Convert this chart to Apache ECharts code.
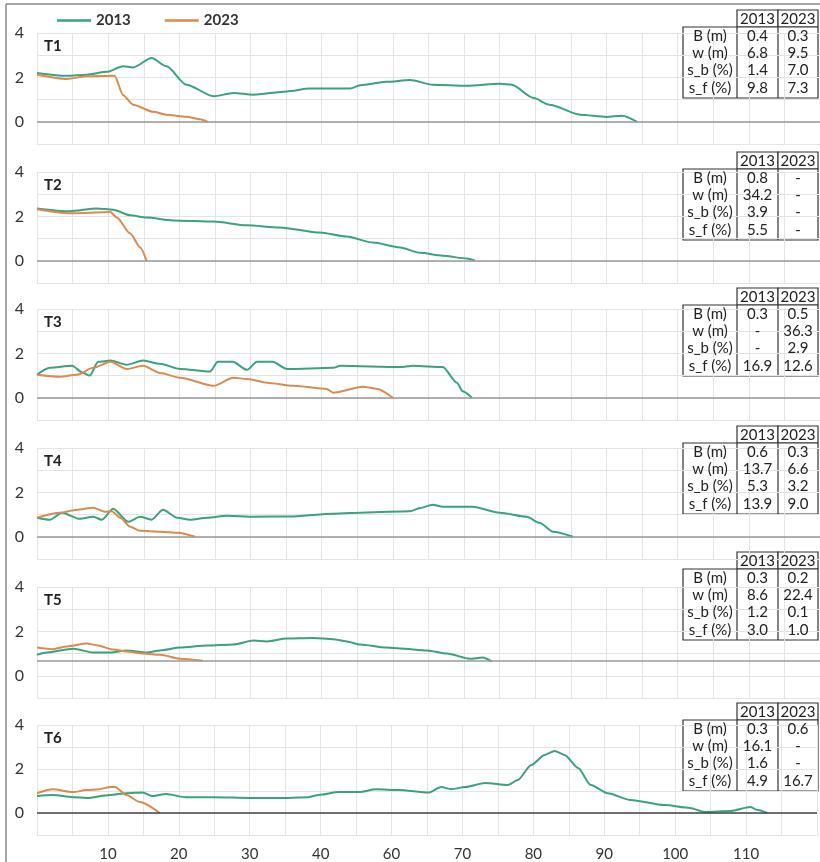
<!DOCTYPE html>
<html>
<head>
<meta charset="utf-8">
<script src="https://cdn.jsdelivr.net/npm/echarts@6/dist/echarts.min.js"></script>
<style>
  html, body { margin: 0; padding: 0; background: #fff; }
  #chart { width: 820px; height: 862px; }
</style>
</head>
<body>
<div id="chart"></div>
<script>
// profiles, x in axis units, y in m
const t1_2013 = [[0,2.2],[4.2,2.07],[7,2.12],[9.8,2.25],[12.1,2.5],[13.5,2.45],[16.1,2.87],[18.2,2.5],[21,1.67],[24.8,1.15],[27.6,1.3],[30.4,1.22],[35.1,1.37],[38.3,1.5],[44,1.5],[45.4,1.65],[49.1,1.8],[52.4,1.88],[55.6,1.67],[60.4,1.62],[65,1.71],[66.7,1.67],[69.7,1.08],[72,0.77],[76.3,0.32],[80,0.22],[82.2,0.27],[84.3,0]];
const t1_2023 = [[0,2.12],[4.2,1.93],[7,2.05],[10.9,2.07],[12.1,1.2],[13.5,0.77],[16.3,0.45],[18.2,0.32],[21,0.23],[22.9,0.12],[24,0]];
const t2_2013 = [[0,2.36],[4.6,2.23],[8.4,2.36],[10.7,2.3],[13.1,2.05],[15.4,1.95],[19.1,1.82],[24.8,1.77],[29.5,1.6],[34.1,1.5],[39.7,1.27],[43.5,1.09],[47.2,0.82],[51,0.6],[53.8,0.36],[57,0.23],[60.4,0.1],[61.5,0]];
const t2_2023 = [[0,2.32],[4.6,2.14],[10.3,2.2],[11.2,1.95],[13.1,1.23],[14.5,0.6],[15.4,0]];
const t3_2013 = [[0,1.04],[1.8,1.35],[4.9,1.44],[6.5,1.12],[7.4,1.0],[8.6,1.62],[10.3,1.68],[12.6,1.49],[14.9,1.68],[17.3,1.53],[20.1,1.3],[24.3,1.18],[25.4,1.62],[27.5,1.62],[29.5,1.26],[30.9,1.62],[33.1,1.62],[35.1,1.3],[41.6,1.35],[42.6,1.44],[51,1.39],[52.8,1.44],[57,1.39],[59,0.68],[59.8,0.29],[61.1,0]];
const t3_2023 = [[0,1.04],[3.2,0.95],[5.6,1.04],[7.9,1.35],[10.3,1.62],[12.6,1.3],[14.9,1.44],[17.3,1.12],[20.1,0.9],[24.8,0.54],[27.6,0.9],[29.5,0.85],[32.3,0.68],[36,0.54],[40.7,0.4],[41.6,0.23],[45.8,0.5],[47.8,0.4],[50,0]];
const t4_2013 = [[0,0.86],[1.8,0.77],[3.5,1.08],[6,0.81],[7.9,0.9],[9.1,0.77],[10.7,1.26],[12.8,0.68],[14.5,0.9],[16.1,0.77],[17.7,1.22],[19.7,0.86],[21.5,0.77],[23.9,0.86],[26.7,0.95],[30.4,0.9],[36,0.92],[41.6,1.04],[46.3,1.1],[52.4,1.15],[53.8,1.3],[55.6,1.44],[57,1.35],[61.2,1.35],[65,1.08],[68.8,0.9],[70.6,0.63],[72.5,0.23],[75.3,0]];
const t4_2023 = [[0,0.86],[3.2,1.08],[5.6,1.22],[7.9,1.31],[9.5,1.13],[10.5,1.15],[11.7,0.86],[13.1,0.45],[14.5,0.27],[17.3,0.23],[19.8,0.18],[22.2,0]];
const t5_2013 = [[0,0.95],[1.4,1.05],[5.1,1.22],[7.9,1.05],[10.3,1.05],[12.6,1.14],[15.4,1.05],[17.3,1.14],[20.1,1.27],[23.9,1.36],[27.6,1.41],[30.4,1.59],[32.3,1.55],[35.1,1.68],[38.8,1.7],[41.6,1.65],[43.5,1.55],[45.4,1.41],[49.1,1.27],[51,1.23],[54.8,1.14],[57.6,1.0],[60.8,0.77],[62.6,0.82],[63.9,0.64]];
const t5_2023 = [[0,1.27],[2.2,1.2],[4.2,1.32],[7,1.45],[8.4,1.38],[10.7,1.18],[12.6,1.1],[14.9,1.0],[17.3,0.95],[20.1,0.77],[23.3,0.68]];
const t6_2013 = [[0,0.77],[2.2,0.82],[5.1,0.72],[7,0.68],[10.3,0.82],[12.6,0.9],[14.9,0.93],[16.3,0.77],[18.2,0.86],[21,0.72],[24.8,0.72],[30.4,0.68],[35.1,0.68],[38.3,0.72],[39.7,0.82],[42.6,0.95],[45.4,0.95],[47.8,1.08],[51,1.04],[55.2,0.93],[57,1.18],[58.4,1.08],[60.4,1.18],[63.2,1.36],[66.4,1.27],[67.8,1.5],[69.7,2.18],[71.6,2.64],[73,2.82],[74.4,2.64],[76.3,2.05],[78.1,1.27],[80.5,0.9],[83.7,0.59],[88.5,0.36],[92.1,0.23],[94.1,0.05],[97.8,0.09],[100.6,0.27],[101.5,0.15],[103,0]];
const t6_2023 = [[0,0.9],[2.2,1.08],[5.1,0.95],[7,1.04],[8.8,1.08],[10.3,1.18],[11,1.18],[12.6,0.82],[14.5,0.5],[17.3,0]];

const panelNames = ['T1', 'T2', 'T3', 'T4', 'T5', 'T6'];
const data2013 = [t1_2013, t2_2013, t3_2013, t4_2013, t5_2013, t6_2013];
const data2023 = [t1_2023, t2_2023, t3_2023, t4_2023, t5_2023, t6_2023];
const baseLevel = [0, 0, 0, 0, 0.68, 0];

// tick labels (the axis skips 50)
const xTickPos = [10, 20, 30, 40, 50, 60, 70, 80, 90, 100];
const xTickText = ['10', '20', '30', '40', '60', '70', '80', '90', '100', '110'];
const yTickPos = [0, 2, 4];

// table values
const rowLabels = ['B (m)', 'w (m)', 's_b (%)', 's_f (%)'];
const tab2013 = [
  ['0.4', '6.8', '1.4', '9.8'],
  ['0.8', '34.2', '3.9', '5.5'],
  ['0.3', '-', '-', '16.9'],
  ['0.6', '13.7', '5.3', '13.9'],
  ['0.3', '8.6', '1.2', '3.0'],
  ['0.3', '16.1', '1.6', '4.9']
];
const tab2023 = [
  ['0.3', '9.5', '7.0', '7.3'],
  ['-', '-', '-', '-'],
  ['0.5', '36.3', '2.9', '12.6'],
  ['0.3', '6.6', '3.2', '9.0'],
  ['0.2', '22.4', '0.1', '1.0'],
  ['0.6', '-', '-', '16.7']
];

// layout
const gridTops = [33, 172, 309, 448, 587, 725];
const tableSep = [27, 169, 305, 443, 569, 720];
const FONT = 'Lato, "DejaVu Sans", sans-serif';
const GREEN = '#3aa27c';
const ORANGE = '#d98b50';

const myChart = echarts.init(document.getElementById('chart'));

const grids = [], xAxes = [], yAxes = [], series = [], graphics = [];

gridTops.forEach((top, i) => {
  grids.push({ left: 37, right: 0, top: top, height: 111 });
  xAxes.push({
    type: 'value', gridIndex: i, min: 0, max: 110, interval: 5,
    axisLine: { show: false }, axisTick: { show: false },
    splitLine: { show: true, lineStyle: { color: '#e4e4e4', width: 1 } },
    axisLabel: {
      show: i === 5, margin: 12, fontSize: 15, color: '#333', fontFamily: FONT,
      formatter: (v) => { const k = xTickPos.indexOf(v); return k >= 0 ? xTickText[k] : ''; }
    }
  });
  yAxes.push({
    type: 'value', gridIndex: i, min: -1, max: 4, interval: 1,
    axisLine: { show: false }, axisTick: { show: false },
    splitLine: { show: true, lineStyle: { color: '#e4e4e4', width: 1 } },
    axisLabel: {
      margin: 13, fontSize: 16, color: '#333', fontFamily: FONT,
      formatter: (v) => yTickPos.includes(v) ? String(v) : ''
    }
  });
  series.push({
    name: '2013', type: 'line', xAxisIndex: i, yAxisIndex: i,
    data: data2013[i], symbol: 'none', smooth: 0.25, smoothMonotone: 'x',
    lineStyle: { color: GREEN, width: 2 }, itemStyle: { color: GREEN }, z: 3,
    markLine: {
      silent: true, symbol: 'none', label: { show: false }, animation: false,
      lineStyle: { color: i === 5 ? '#444' : '#9a9a9a', width: 1.5, type: 'solid' },
      data: [{ yAxis: baseLevel[i] }]
    }
  });
  series.push({
    name: '2023', type: 'line', xAxisIndex: i, yAxisIndex: i,
    data: data2023[i], symbol: 'none', smooth: 0.25, smoothMonotone: 'x',
    lineStyle: { color: ORANGE, width: 2 }, itemStyle: { color: ORANGE }, z: 4
  });

  // panel name
  graphics.push({
    type: 'text', left: 44, top: top + 6,
    style: { text: panelNames[i], font: 'bold 15px ' + FONT, fill: '#222' }
  });

  // table
  const s = tableSep[i];
  const box = { stroke: '#333', lineWidth: 1.2, fill: '#fff' };
  graphics.push({ type: 'rect', shape: { x: 737, y: s - 17, width: 41, height: 17 }, style: box });
  graphics.push({ type: 'rect', shape: { x: 778, y: s - 17, width: 40, height: 17 }, style: box });
  graphics.push({ type: 'rect', shape: { x: 683, y: s, width: 135, height: 71 }, style: box });
  graphics.push({ type: 'line', shape: { x1: 737, y1: s, x2: 737, y2: s + 71 }, style: { stroke: '#333', lineWidth: 1.2 } });
  graphics.push({ type: 'line', shape: { x1: 778, y1: s, x2: 778, y2: s + 71 }, style: { stroke: '#333', lineWidth: 1.2 } });
  const txt = (x, y, t) => ({
    type: 'text', x: x, y: y, z: 10,
    style: { text: t, font: '15px ' + FONT, fill: '#222', align: 'center', verticalAlign: 'middle' }
  });
  graphics.push(txt(757.5, s - 8, '2013'));
  graphics.push(txt(798, s - 8, '2023'));
  rowLabels.forEach((lab, r) => {
    const y = s + 9 + r * 17.3;
    graphics.push(txt(710, y, lab));
    graphics.push(txt(757.5, y, tab2013[i][r]));
    graphics.push(txt(798, y, tab2023[i][r]));
  });
});

// frame
graphics.push({ type: 'line', shape: { x1: 6, y1: 4, x2: 820, y2: 4 }, style: { stroke: '#888', lineWidth: 1.5 } });
graphics.push({ type: 'line', shape: { x1: 6, y1: 4, x2: 6, y2: 862 }, style: { stroke: '#888', lineWidth: 1.5 } });

const option = {
  animation: false,
  legend: {
    data: [{ name: '2013', icon: 'rect' }, { name: '2023', icon: 'rect' }],
    left: 52, top: 8, itemWidth: 34, itemHeight: 2.5, itemGap: 34,
    textStyle: { fontSize: 15, fontWeight: 'bold', color: '#333', fontFamily: FONT }
  },
  grid: grids,
  xAxis: xAxes,
  yAxis: yAxes,
  series: series,
  graphic: graphics
};
option && myChart.setOption(option);
</script>
</body>
</html>
